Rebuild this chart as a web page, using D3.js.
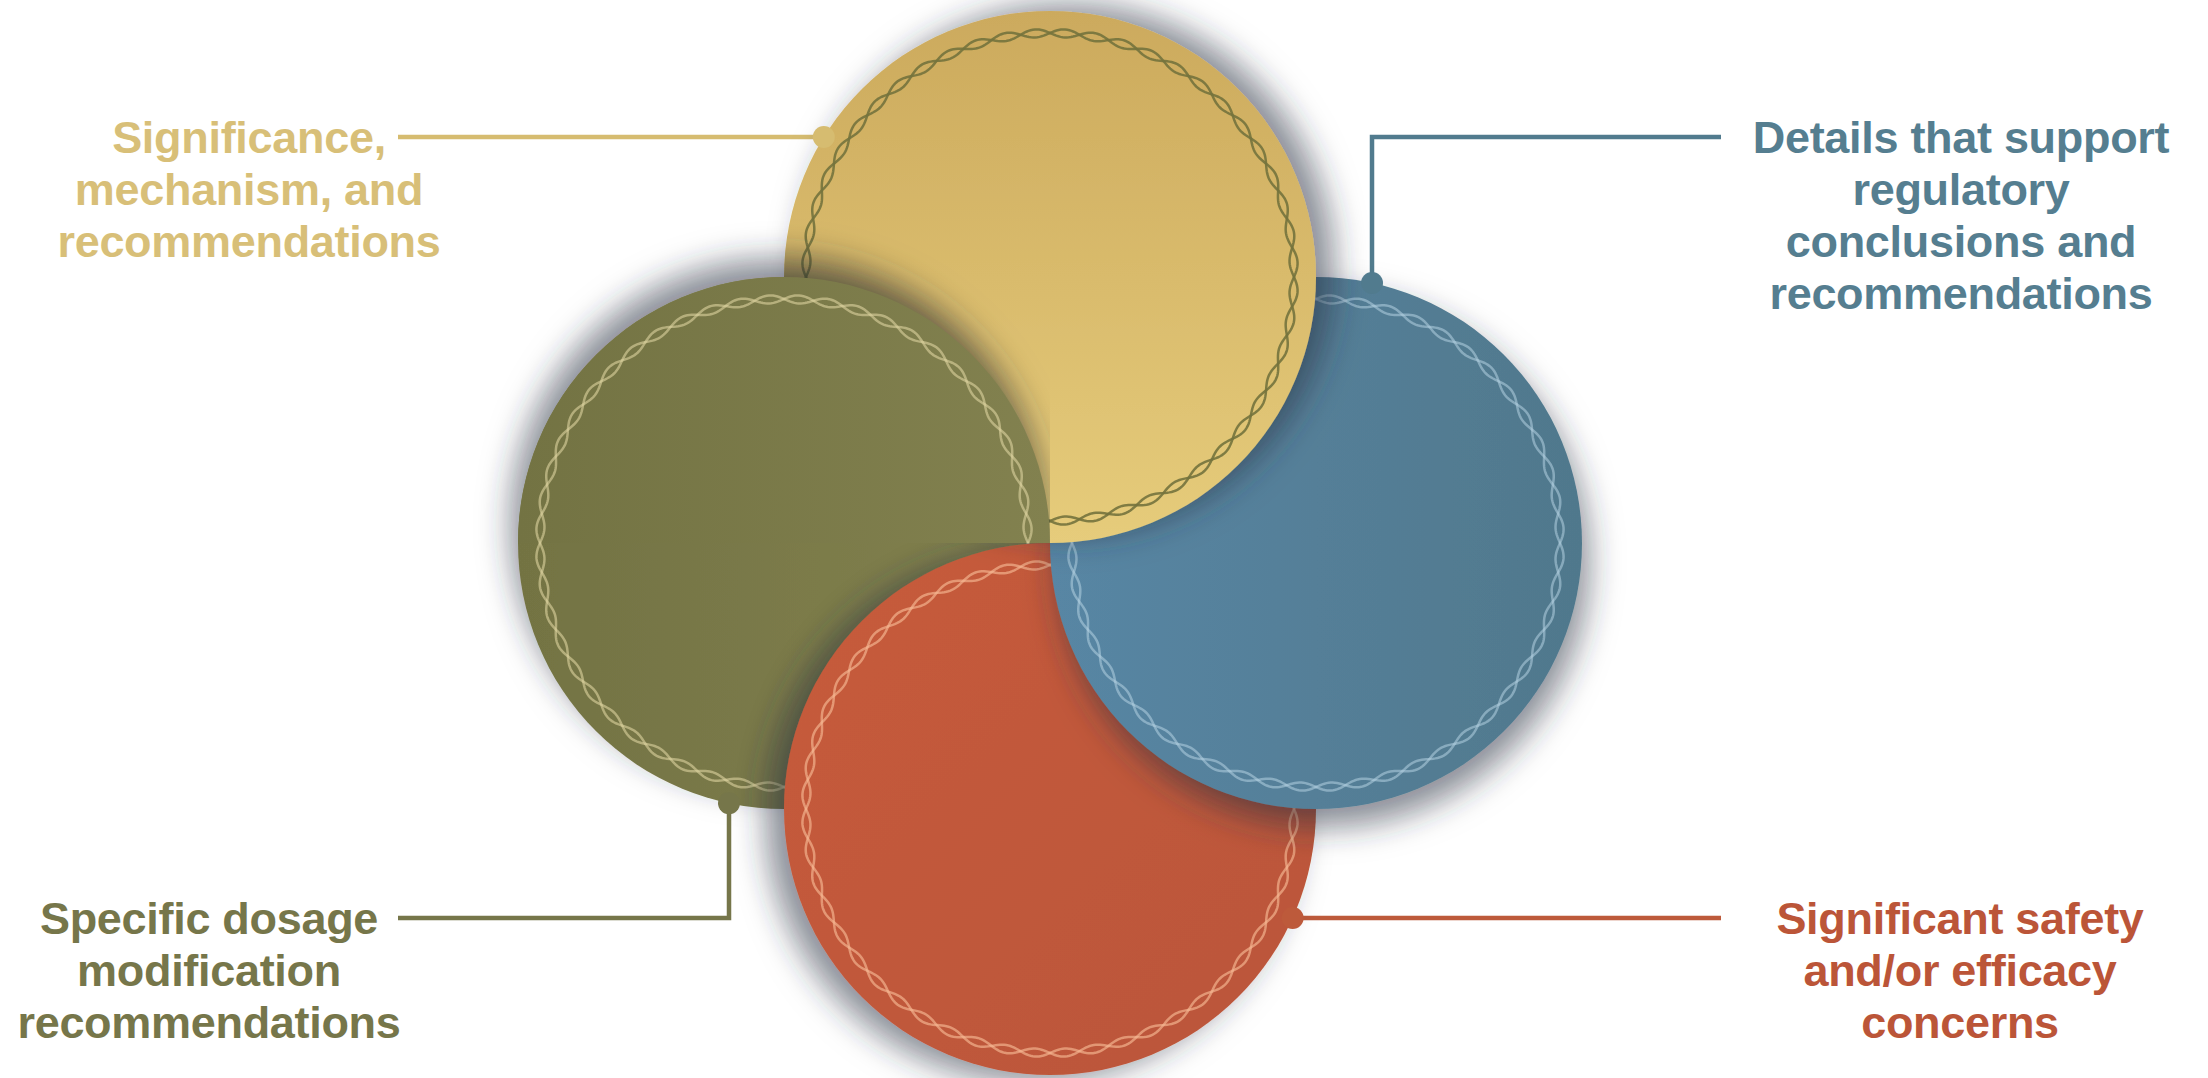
<!DOCTYPE html>
<html>
<head>
<meta charset="utf-8">
<script src="https://cdn.jsdelivr.net/npm/d3@7"></script>
<style>
  html, body { margin: 0; padding: 0; background: #ffffff; }
  svg { display: block; }
</style>
</head>
<body>
<svg id="chart" width="2208" height="1078"></svg>
<script>
// ---- data ----
const categories = ["yellow", "blue", "red", "olive"];
const labelLines = [
  ["Significance,", "mechanism, and", "recommendations"],
  ["Details that support", "regulatory", "conclusions and", "recommendations"],
  ["Significant safety", "and/or efficacy", "concerns"],
  ["Specific dosage", "modification", "recommendations"]
];
const fillTop = ["#ccaa5d", "#5886a4", "#c75b3b", "#737343"];
const fillBottom = ["#e6cc7b", "#50788c", "#ba563a", "#82814f"];
const ropeColors = ["#74733d", "#b4d2e2", "#f6b894", "#ddd3a0"];
const ropeOpacity = [0.9, 0.55, 0.65, 0.6];
const textColors = ["#d8bf78", "#557e90", "#bb5538", "#76764a"];
const lineColors = ["#d6bc70", "#517b8e", "#bd5a3b", "#76764a"];

// ---- layout ----
const W = 2208, H = 1078;
const C = { x: 1050, y: 543 };
const R = 266;
const svg = d3.select("#chart");
svg.append("rect").attr("width", W).attr("height", H).attr("fill", "#fff");

const dirs = { yellow: [0, -1], blue: [1, 0], red: [0, 1], olive: [-1, 0] };
const shadowOff = { yellow: [18, -7], blue: [7, 18], red: [-18, 7], olive: [-7, -18] };
const centerOf = k => ({ x: C.x + dirs[k][0] * R, y: C.y + dirs[k][1] * R });

const defs = svg.append("defs");
categories.forEach((k, i) => {
  const vertical = (k === "yellow");
  const g = defs.append("linearGradient").attr("id", "grad-" + k)
    .attr("x1", "0").attr("y1", "0")
    .attr("x2", vertical ? "0" : "1").attr("y2", vertical ? "1" : (k === "red" ? "1" : "0"));
  g.append("stop").attr("offset", "0").attr("stop-color", fillTop[i]);
  g.append("stop").attr("offset", "1").attr("stop-color", fillBottom[i]);

  const f = defs.append("filter").attr("id", "sh-" + k)
    .attr("x", "-30%").attr("y", "-30%").attr("width", "160%").attr("height", "160%");
  f.append("feDropShadow")
    .attr("dx", shadowOff[k][0]).attr("dy", shadowOff[k][1])
    .attr("stdDeviation", 16)
    .attr("flood-color", "#283040").attr("flood-opacity", 0.55);
});

// shadow-only filter for the olive over yellow lens
const fo = defs.append("filter").attr("id", "shonly-olive")
  .attr("x", "-30%").attr("y", "-30%").attr("width", "160%").attr("height", "160%");
fo.append("feGaussianBlur").attr("in", "SourceAlpha").attr("stdDeviation", 17).attr("result", "b");
fo.append("feOffset").attr("in", "b").attr("dx", shadowOff.olive[0]).attr("dy", shadowOff.olive[1]).attr("result", "o");
fo.append("feFlood").attr("flood-color", "#2a2e30").attr("flood-opacity", 0.7).attr("result", "fl");
fo.append("feComposite").attr("in", "fl").attr("in2", "o").attr("operator", "in");

// clip paths
defs.append("clipPath").attr("id", "clip-quad")
  .append("rect").attr("x", 0).attr("y", 0).attr("width", C.x).attr("height", C.y);
defs.append("clipPath").attr("id", "clip-yellow")
  .append("circle").attr("cx", centerOf("yellow").x).attr("cy", centerOf("yellow").y).attr("r", R);

// rope (two interleaved sine strands)
const ropeR0 = R - 22, ropeAmp = 4, ropeN = 26;
const angles = d3.range(0, 721).map(j => j / 720 * 2 * Math.PI);
const strand = sgn => d3.lineRadial()
  .angle(a => a)
  .radius(a => ropeR0 + sgn * ropeAmp * Math.sin(ropeN * a))
  .curve(d3.curveLinearClosed)(angles);

function drawBall(parent, k, withShadow) {
  const i = categories.indexOf(k);
  const c = centerOf(k);
  const g = parent.append("g").attr("transform", `translate(${c.x},${c.y})`);
  const circ = g.append("circle").attr("r", R).attr("fill", `url(#grad-${k})`);
  if (withShadow) circ.attr("filter", `url(#sh-${k})`);
  [1, -1].forEach(s => {
    g.append("path").attr("d", strand(s))
      .attr("fill", "none")
      .attr("stroke", ropeColors[i])
      .attr("stroke-opacity", ropeOpacity[i])
      .attr("stroke-width", 2.5);
  });
}

// leader geometry
const leaders = {
  yellow: () => {
    const c = centerOf("yellow"); const y = 137;
    const x = c.x - Math.sqrt(R * R - (y - c.y) ** 2);
    return { knob: [x, y], pts: [[x, y], [398, y]], tx: 249, ty: y };
  },
  blue: () => {
    const c = centerOf("blue"); const x = 1372;
    const y = c.y - Math.sqrt(R * R - (x - c.x) ** 2);
    return { knob: [x, y], pts: [[x, y], [x, 137], [1721, 137]], tx: 1961, ty: 137 };
  },
  red: () => {
    const c = centerOf("red"); const y = 918;
    const x = c.x + Math.sqrt(R * R - (y - c.y) ** 2);
    return { knob: [x, y], pts: [[x, y], [1721, y]], tx: 1960, ty: y };
  },
  olive: () => {
    const c = centerOf("olive"); const x = 729;
    const y = c.y + Math.sqrt(R * R - (x - c.x) ** 2);
    return { knob: [x, y], pts: [[x, y], [x, 918], [398, 918]], tx: 209, ty: 918 };
  }
};
const lineGen = d3.line();

const leaderLayer = svg.append("g");
const ballLayer = svg.append("g");
const knobLayer = svg.append("g");
const textLayer = svg.append("g");

// draw order: olive, red, blue, yellow; then olive's shadow + fill over the yellow lens
["olive", "red", "blue", "yellow"].forEach(k => drawBall(ballLayer, k, true));
const oc = centerOf("olive");
ballLayer.append("g").attr("clip-path", "url(#clip-quad)")
  .append("g").attr("clip-path", "url(#clip-yellow)")
  .append("circle").attr("cx", oc.x).attr("cy", oc.y).attr("r", R)
  .attr("fill", "#000").attr("filter", "url(#shonly-olive)");
drawBall(ballLayer.append("g").attr("clip-path", "url(#clip-quad)"), "olive", false);

categories.forEach((k, i) => {
  const L = leaders[k]();
  leaderLayer.append("path").attr("d", lineGen(L.pts))
    .attr("fill", "none").attr("stroke", lineColors[i]).attr("stroke-width", 4.5);
  knobLayer.append("circle").attr("cx", L.knob[0]).attr("cy", L.knob[1]).attr("r", 11)
    .attr("fill", lineColors[i]);
  const t = textLayer.append("text")
    .attr("text-anchor", "middle")
    .attr("font-family", "'Liberation Sans', Arial, sans-serif")
    .attr("font-weight", "bold")
    .attr("font-size", 45)
    .attr("letter-spacing", -0.3)
    .attr("fill", textColors[i]);
  labelLines[i].forEach((ln, j) => {
    t.append("tspan").attr("x", L.tx).attr("y", L.ty + j * 52)
      .attr("dominant-baseline", "central").text(ln);
  });
});
</script>
</body>
</html>
